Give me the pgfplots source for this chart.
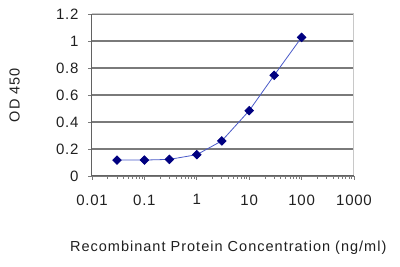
\documentclass[border=0pt]{standalone}
\usepackage{pgfplots}
\pgfplotsset{compat=1.18}
\usepackage{fontspec}
\setmainfont{Liberation Sans}
\newfontfamily\ticksfont[LetterSpace=5]{Liberation Sans}
\newfontfamily\labfont[LetterSpace=7]{Liberation Sans}
\definecolor{txt}{HTML}{202020}
\definecolor{gridc}{HTML}{7A7A7A}
\definecolor{framec}{HTML}{C8C8C8}
\definecolor{linec}{HTML}{4A5AC8}
\definecolor{markc}{HTML}{000080}
\begin{document}
\begin{tikzpicture}[x=1pt,y=1pt]
\path[use as bounding box] (-92,-91) rectangle (308,176);
\begin{axis}[
  at={(0,0)}, anchor=south west,
  scale only axis, width=262pt, height=162pt,
  xmode=log, xmin=0.01, xmax=1000,
  ymin=0, ymax=1.2,
  xtick={0.01,0.1,1,10,100,1000},
  xticklabels={0.01,0.1,1,10,100,1000},
  ytick={0,0.2,0.4,0.6,0.8,1,1.2},
  yticklabels={0,0.2,0.4,0.6,0.8,1,1.2},
  minor xtick={},
  axis line style={draw=none},
  tick style={draw=gridc, line width=0.8pt},
  tick align=outside, major tick length=4pt,
  xtick pos=bottom, ytick pos=left,
  ymajorgrids, grid style={gridc, line width=1.3pt},
  ticklabel style={font=\ticksfont\fontsize{15}{15}\selectfont, text=txt},
  xticklabel style={yshift=-11pt},
  yticklabel style={xshift=-6pt},
  xlabel={Recombinant Protein Concentration (ng/ml)},
  ylabel={OD 450},
  label style={font=\labfont\fontsize{14.5}{15}\selectfont, text=txt},
  xlabel style={at={(axis description cs:0.52,-0.44)}, anchor=center},
  ylabel style={at={(axis description cs:-0.295,0.5)}, anchor=center},
  clip=false,
]
\draw[framec, line width=1pt] (rel axis cs:0,1) -- (rel axis cs:1,1) -- (rel axis cs:1,0);
\draw[gridc!80!black, line width=1pt] (rel axis cs:0,1) -- (rel axis cs:0,0) -- (rel axis cs:1,0);
\addplot[color=linec, line width=0.8pt, mark=square*, mark size=3pt,
  mark options={fill=markc, draw=markc, rotate=45}] coordinates {
  (0.03,0.118) (0.1,0.118) (0.3,0.123) (1,0.158) (3,0.26) (10,0.484) (30,0.746) (100,1.027)
};
\end{axis}
\end{tikzpicture}
\end{document}
